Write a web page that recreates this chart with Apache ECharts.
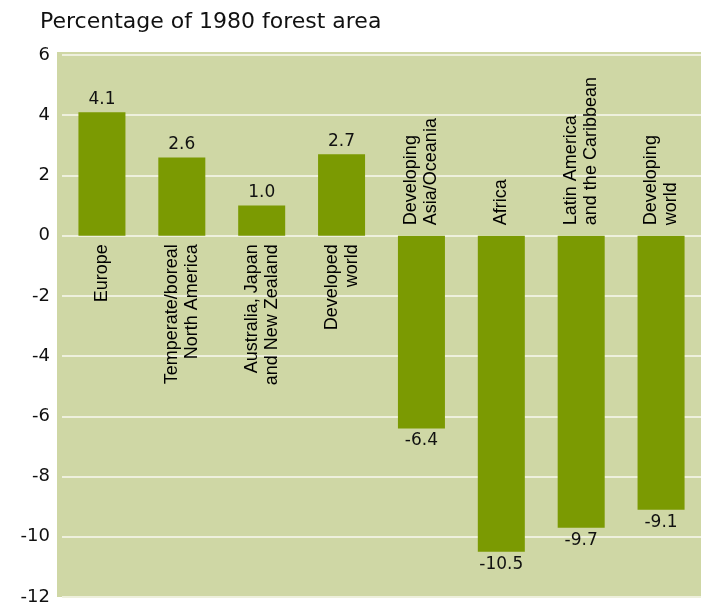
<!DOCTYPE html>
<html>
<head>
<meta charset="utf-8">
<script src="https://cdn.jsdelivr.net/npm/echarts@6/dist/echarts.min.js"></script>
<style>html,body{margin:0;padding:0;background:#fff}#c{width:701px;height:606px}</style>
</head>
<body>
<div id="c"></div>
<script>
var categories = [
  "Europe",
  "Temperate/boreal\nNorth America",
  "Australia, Japan\nand New Zealand",
  "Developed\nworld",
  "Developing\nAsia/Oceania",
  "Africa",
  "Latin America\nand the Caribbean",
  "Developing\nworld"
];
var values = [4.1, 2.6, 1.0, 2.7, -6.4, -10.5, -9.7, -9.1];
var yTicks = { min: -12, max: 6, interval: 2 };
var titleText = "Percentage of 1980 forest area";

var BAR = '#7b9a02', BG = '#cfd7a5', GRID = '#eef0dd', TXT = '#111111';

var chart = echarts.init(document.getElementById('c'), null, {renderer: 'canvas'});
chart.setOption({
  animation: false,
  backgroundColor: '#fff',
  title: {
    text: titleText, left: 35, top: 6,
    textStyle: { fontFamily: 'DejaVu Sans', fontSize: 22, fontWeight: 'normal', color: TXT }
  },
  graphic: [{
    type: 'rect', z: -10, silent: true,
    shape: { x: 57, y: 52, width: 644, height: 545 },
    style: { fill: BG }
  }],
  grid: { left: 62, right: 0, top: 55, bottom: 9, containLabel: false, outerBoundsMode: 'none' },
  xAxis: {
    type: 'category', data: categories,
    axisLine: { show: false }, axisTick: { show: false }, axisLabel: { show: false }
  },
  yAxis: {
    type: 'value', min: yTicks.min, max: yTicks.max, interval: yTicks.interval,
    axisLine: { show: false }, axisTick: { show: false },
    splitLine: { show: true, lineStyle: { color: GRID, width: 2 } },
    axisLabel: { margin: 12, color: TXT, fontFamily: 'DejaVu Sans', fontSize: 18,
      padding: [0, 0, 4, 0] }
  },
  series: [{
    type: 'bar', barWidth: 47,
    itemStyle: { color: BAR },
    data: values.map(function (v) {
      return { value: v, label: { position: v >= 0 ? 'top' : 'bottom' } };
    }),
    label: {
      show: true, distance: 4, color: TXT,
      fontFamily: 'DejaVu Sans', fontSize: 17,
      formatter: function (p) { return p.value.toFixed(1); }
    }
  }, {
    type: 'scatter', symbolSize: 1, silent: true, z: 5,
    itemStyle: { color: 'rgba(0,0,0,0)' },
    data: categories.map(function (c, i) {
      var pos = values[i] >= 0;
      return {
        value: [i, 0],
        label: pos
          ? { position: 'bottom', distance: 8, align: 'right', verticalAlign: 'middle' }
          : { position: 'top', distance: 10, align: 'left', verticalAlign: 'middle' }
      };
    }),
    label: {
      show: true, rotate: 90, color: '#000', opacity: 1,
      fontFamily: 'Liberation Sans, Arial, sans-serif', fontSize: 18, lineHeight: 20,
      formatter: function (p) { return categories[p.dataIndex]; }
    }
  }]
});
</script>
</body>
</html>
